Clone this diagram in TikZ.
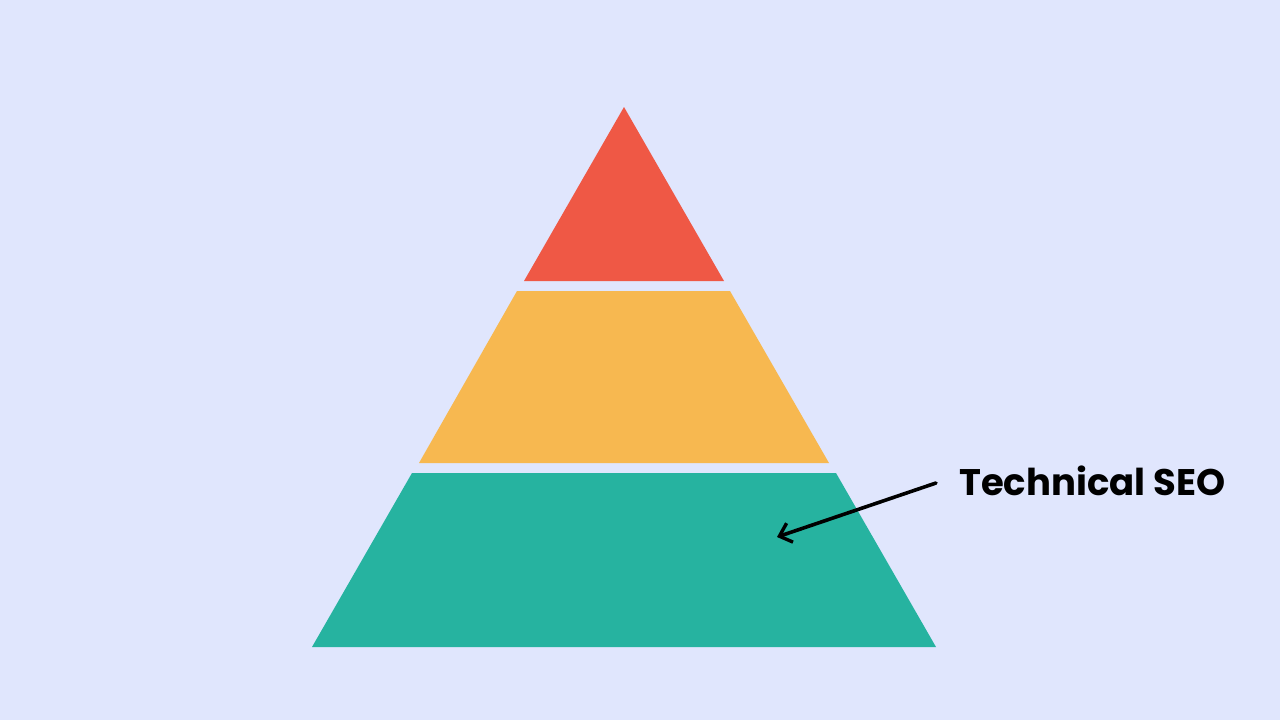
\documentclass[tikz,border=0pt]{standalone}
\usepackage{fontspec}
\setmainfont{Poppins}
\usetikzlibrary{arrows.meta}
\definecolor{bg}{HTML}{E0E6FD}
\definecolor{tierred}{HTML}{EF5845}
\definecolor{tierorange}{HTML}{F7B850}
\definecolor{tierteal}{HTML}{26B3A0}
\tikzset{
  pointer/.style={line width=3.6pt, line cap=round, -{Straight Barb[length=11pt,width=20pt,line width=3.4pt]}},
  label/.style={font=\fontsize{37}{37}\selectfont\bfseries, anchor=west, inner sep=0pt}
}
\begin{document}
\begin{tikzpicture}[x=1pt,y=-1pt]
\fill[bg] (0,0) rectangle (1280,720);
\useasboundingbox (0,0) rectangle (1280,720);
\fill[tierred] (624,107) -- (724,281) -- (524,281) -- cycle;
\fill[tierorange] (517,291) -- (730,291) -- (829,463) -- (419,463) -- cycle;
\fill[tierteal] (412,473) -- (836,473) -- (936,647) -- (312,647) -- cycle;
\node[label] (seo) at (959,481) {Technical SEO};
\coordinate (tail) at (936,483);
\coordinate (tip) at (777,537);
\draw[pointer] (tail) -- (tip);
\end{tikzpicture}
\end{document}
